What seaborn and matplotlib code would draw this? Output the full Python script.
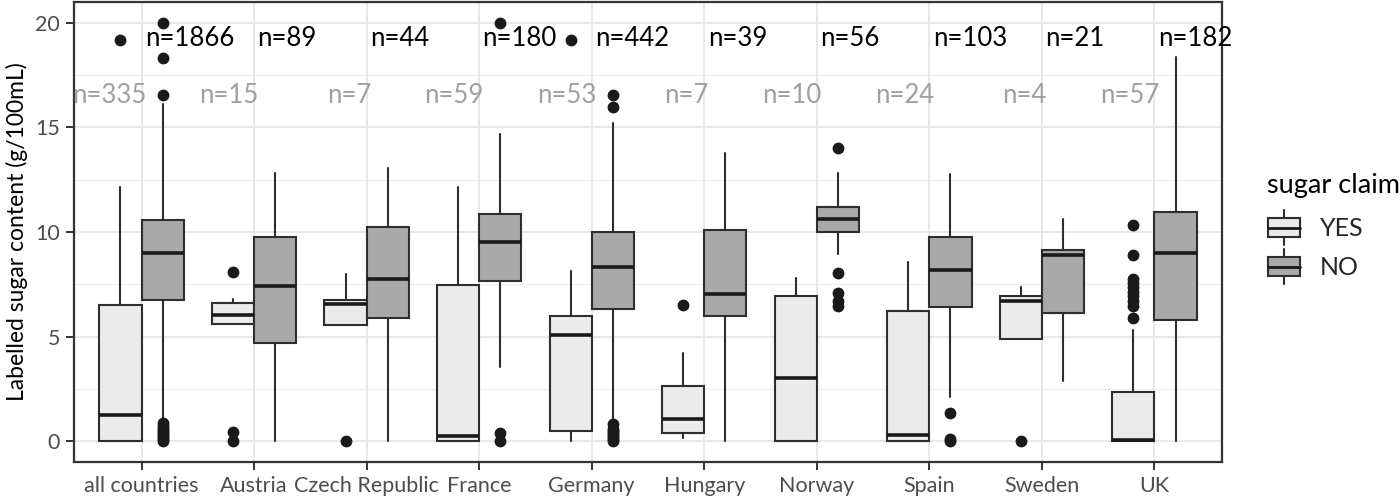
import numpy as np
import pandas as pd
import matplotlib
matplotlib.use("Agg")
import matplotlib.pyplot as plt
import seaborn as sns
from matplotlib.patches import Patch, Rectangle
from matplotlib.lines import Line2D
from matplotlib.legend_handler import HandlerBase
from matplotlib.ticker import MultipleLocator

# Ülkeler ve gruplar
countries = ["all countries", "Austria", "Czech Republic", "France", "Germany",
             "Hungary", "Norway", "Spain", "Sweden", "UK"]
claims = ["YES", "NO"]

# sugar claim = YES
yes_q1 = [0.0, 5.62, 5.55, 0.0, 0.48, 0.40, 0.0, 0.0, 4.86, 0.0]
yes_med = [1.24, 6.03, 6.57, 0.22, 5.08, 1.08, 3.03, 0.30, 6.71, 0.05]
yes_q3 = [6.50, 6.59, 6.74, 7.46, 5.98, 2.65, 6.94, 6.24, 6.95, 2.33]
yes_lo = [0.0, 5.62, 5.55, 0.0, 0.0, 0.14, 0.0, 0.0, 4.86, 0.0]
yes_hi = [12.14, 6.78, 7.97, 12.14, 8.12, 4.20, 7.79, 8.55, 7.38, 5.31]
yes_out = [[19.2], [8.1, 0.45, 0.0], [0.0], [], [19.2], [6.5], [], [], [0.0],
           [10.35, 8.89, 7.73, 7.55, 7.35, 7.15, 6.95, 6.7, 6.46, 5.9]]

# sugar claim = NO
no_q1 = [6.74, 4.70, 5.87, 7.68, 6.30, 5.97, 10.0, 6.40, 6.14, 5.79]
no_med = [9.01, 7.40, 7.73, 9.52, 8.33, 7.05, 10.63, 8.17, 8.92, 9.00]
no_q3 = [10.59, 9.74, 10.25, 10.86, 10.0, 10.10, 11.19, 9.74, 9.16, 10.95]
no_lo = [1.0, 0.0, 0.0, 3.55, 0.98, 0.0, 8.95, 2.09, 2.87, 0.0]
no_hi = [16.1, 12.84, 13.08, 14.71, 15.22, 13.76, 12.82, 12.76, 10.63, 18.36]
no_out = [[0.0, 0.1, 0.2, 0.3, 0.4, 0.5, 0.6, 0.7, 0.85, 16.55, 18.33, 20.0],
          [], [], [20.0, 0.38, 0.0],
          [15.98, 16.55, 0.0, 0.1, 0.2, 0.3, 0.4, 0.5, 0.6, 0.8],
          [], [14.03, 8.03, 7.1, 6.7, 6.46], [1.36, 0.1, 0.0], [], []]

n_yes = [335, 15, 7, 59, 53, 7, 10, 24, 4, 57]
n_no = [1866, 89, 44, 180, 442, 39, 56, 103, 21, 182]

sns.set_theme(style="white")
plt.rcParams["font.family"] = ["Lato", "DejaVu Sans"]

fill = {"YES": "#EBEBEB", "NO": "#A9A9A9"}
edge = "#2E2E2E"

def make_stats(q1, med, q3, lo, hi, out):
    return [dict(q1=a, med=b, q3=c, whislo=d, whishi=e, fliers=f, label=cat)
            for a, b, c, d, e, f, cat in zip(q1, med, q3, lo, hi, out, countries)]

stats = {"YES": make_stats(yes_q1, yes_med, yes_q3, yes_lo, yes_hi, yes_out),
         "NO": make_stats(no_q1, no_med, no_q3, no_lo, no_hi, no_out)}

fig = plt.figure(figsize=(14, 5.04), dpi=100)
ax = fig.add_axes([74 / 1400, 42 / 504, 1148 / 1400, 460 / 504])

pos = np.arange(1, len(countries) + 1)
width = 0.375
for k, claim in enumerate(claims):
    offs = -width / 2 if claim == "YES" else width / 2
    ax.bxp(stats[claim], positions=pos + offs, widths=width, patch_artist=True,
           showcaps=False, manage_ticks=False,
           boxprops=dict(facecolor=fill[claim], edgecolor=edge, linewidth=1.5),
           medianprops=dict(color="#1A1A1A", linewidth=2.6),
           whiskerprops=dict(color=edge, linewidth=1.5),
           flierprops=dict(marker="o", markersize=7.5, markerfacecolor="#1A1A1A",
                           markeredgecolor="#1A1A1A"),
           zorder=3)

# n etiketleri
for i, c in enumerate(countries):
    ax.text(pos[i] + 0.03, 19.25, f"n={n_no[i]}", ha="left", va="center",
            fontsize=18.5, color="black", zorder=4)
    ax.text(pos[i] + 0.04, 16.55, f"n={n_yes[i]}", ha="right", va="center",
            fontsize=18.5, color="#A0A0A0", zorder=4)

ax.set_xlim(0.4, len(countries) + 0.6)
ax.set_ylim(-1, 21)
ax.set_xticks(pos)
ax.set_xticklabels(countries)
ax.yaxis.set_major_locator(MultipleLocator(5))
ax.yaxis.set_minor_locator(MultipleLocator(2.5))
ax.grid(True, which="major", color="#E6E6E6", linewidth=1.3, zorder=0)
ax.grid(True, which="minor", axis="y", color="#EDEDED", linewidth=0.8, zorder=0)
ax.set_axisbelow(True)
for s in ax.spines.values():
    s.set_color("#333333")
    s.set_linewidth(1.6)
ax.tick_params(axis="both", which="major", length=6, width=1.4, color="#333333",
               labelsize=15.5, labelcolor="#4D4D4D", pad=4, left=True, bottom=True)
ax.tick_params(axis="both", which="minor", length=0)
ax.set_ylabel("Labelled sugar content (g/100mL)", fontsize=16.5, color="black", labelpad=5)
ax.set_xlabel("")


class BoxKey(HandlerBase):
    def create_artists(self, legend, orig_handle, xdescent, ydescent, width, height,
                       fontsize, trans):
        x0, y0 = -xdescent, -ydescent
        cx = x0 + width / 2
        rect = Rectangle((x0, y0 + height * 0.23), width, height * 0.54,
                         facecolor=orig_handle.get_facecolor(), edgecolor=edge,
                         linewidth=1.5, transform=trans)
        med = Line2D([x0, x0 + width], [y0 + height * 0.5] * 2, color="#1A1A1A",
                     linewidth=2.0, transform=trans)
        w1 = Line2D([cx, cx], [y0 + height * 0.77, y0 + height * 1.0], color=edge,
                    linewidth=1.5, transform=trans)
        w2 = Line2D([cx, cx], [y0, y0 + height * 0.23], color=edge,
                    linewidth=1.5, transform=trans)
        return [rect, med, w1, w2]


# legend başlığı ayrı
fig.text(1267 / 1400, 1 - 185 / 504, "sugar claim", fontsize=19.5, color="black",
         ha="left", va="center")
handles = [Patch(facecolor=fill[c], edgecolor=edge) for c in claims]
leg = fig.legend(handles, claims, handler_map={Patch: BoxKey()},
                 loc="upper left", bbox_to_anchor=(1268 / 1400, 1 - 210 / 504),
                 frameon=False, fontsize=18, handlelength=1.28, handleheight=1.78,
                 handletextpad=0.8, labelspacing=0.16,
                 borderaxespad=0, borderpad=0)

fig.savefig("out.png", dpi=100)
